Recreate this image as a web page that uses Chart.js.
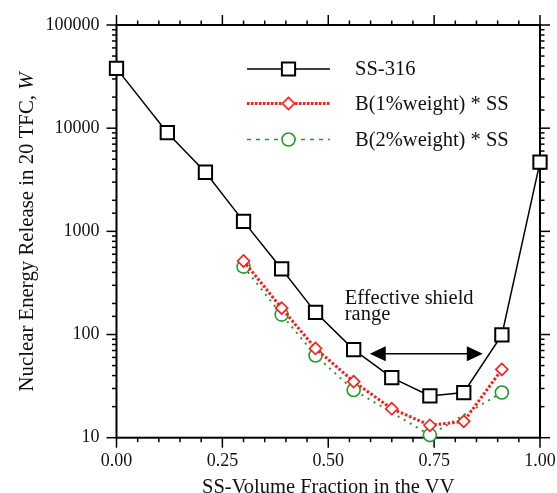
<!DOCTYPE html>
<html>
<head>
<meta charset="utf-8">
<script src="https://cdn.jsdelivr.net/npm/chart.js@4.4.0/dist/chart.umd.min.js"></script>
<style>
  html, body { margin: 0; padding: 0; background: #fff; }
  #wrap { width: 557px; height: 493px; }
</style>
</head>
<body>
<div id="wrap"><canvas id="chart" width="557" height="493"></canvas></div>
<script>
// values
const ssFraction = [0.00, 0.12, 0.21, 0.30, 0.39, 0.47, 0.56, 0.65, 0.74, 0.82, 0.91, 1.00];
const ss316 = [38000, 9040, 3740, 1250, 432, 164, 71.5, 38.2, 25.4, 27.4, 99, 4680];
const b1Fraction = [0.30, 0.39, 0.47, 0.56, 0.65, 0.74, 0.82, 0.91];
const b1Weight = [516, 180, 73.3, 35.0, 19.1, 13.2, 14.4, 45.9];
const b2Fraction = [0.30, 0.39, 0.47, 0.56, 0.74, 0.91];
const b2Weight = [455, 156, 62.6, 29.0, 10.6, 27.4];

const seriesLabels = ['SS-316', 'B(1%weight) * SS', 'B(2%weight) * SS'];
const xMajorTicks = [0, 0.25, 0.5, 0.75, 1];
const yMajorTicks = [10, 100, 1000, 10000, 100000];

// annotation: effective shield range (data coords)
const shieldRange = [0.598, 0.865];
const shieldArrowY = 65;
const shieldText = ['Effective shield', 'range'];
const shieldTextPos = [0.539, 198];

const FONT = '"Liberation Serif", "DejaVu Serif", serif';
const RED = '#ff1a1a';
const GREEN = '#22992a';

function toXY(xs, ys) {
  return xs.map((v, i) => ({ x: v, y: ys[i] }));
}

function isMajorX(v) {
  return xMajorTicks.some(t => Math.abs(t - v) < 1e-6);
}
function isMajorY(v) {
  return yMajorTicks.some(t => Math.abs(t - v) < 1e-6 * t);
}

function seg(ctx, x1, y1, x2, y2) {
  ctx.beginPath();
  ctx.moveTo(x1, y1);
  ctx.lineTo(x2, y2);
  ctx.stroke();
}

function marker(ctx, style, x, y, color) {
  ctx.save();
  ctx.setLineDash([]);
  ctx.fillStyle = '#fff';
  ctx.strokeStyle = color;
  ctx.beginPath();
  if (style === 'rect') {
    ctx.lineWidth = 2;
    ctx.rect(x - 6.6, y - 6.6, 13.2, 13.2);
  } else if (style === 'rectRot') {
    ctx.lineWidth = 1.6;
    ctx.moveTo(x - 6, y); ctx.lineTo(x, y - 6); ctx.lineTo(x + 6, y); ctx.lineTo(x, y + 6);
    ctx.closePath();
  } else {
    ctx.lineWidth = 1.6;
    ctx.arc(x, y, 6.5, 0, Math.PI * 2);
  }
  ctx.fill();
  ctx.stroke();
  ctx.restore();
}

const frame = {
  id: 'frame',
  beforeDatasetsDraw(chart) {
    const { ctx, chartArea: a, scales: { x, y } } = chart;
    ctx.save();
    ctx.strokeStyle = '#000';
    ctx.lineWidth = 1.5;
    x.ticks.forEach(t => {
      const px = x.getPixelForValue(t.value);
      const len = isMajorX(t.value) ? 10 : 4.5;
      seg(ctx, px, a.bottom, px, a.bottom + len);
      seg(ctx, px, a.top, px, a.top - len);
    });
    y.ticks.forEach(t => {
      const py = y.getPixelForValue(t.value);
      const len = isMajorY(t.value) ? 10 : 4.5;
      seg(ctx, a.left, py, a.left - len, py);
      seg(ctx, a.right, py, a.right + len, py);
    });
    ctx.lineWidth = 2;
    ctx.strokeRect(a.left, a.top, a.right - a.left, a.bottom - a.top);
    ctx.restore();
  },
  afterDraw(chart) {
    const { ctx, chartArea: a, scales: { x, y } } = chart;
    ctx.save();
    ctx.fillStyle = '#111';

    // x title
    ctx.font = '20.5px ' + FONT;
    ctx.textAlign = 'center';
    ctx.textBaseline = 'alphabetic';
    ctx.fillText('SS-Volume Fraction in the VV', (a.left + a.right) / 2, 492.5);

    // y title with italic W
    const part1 = 'Nuclear Energy Release in 20 TFC, ';
    const part2 = 'W';
    ctx.font = '20.8px ' + FONT;
    const w1 = ctx.measureText(part1).width;
    ctx.font = 'italic 20.8px ' + FONT;
    const w2 = ctx.measureText(part2).width;
    ctx.save();
    ctx.translate(33, 232);
    ctx.rotate(-Math.PI / 2);
    ctx.textAlign = 'left';
    ctx.font = '20.8px ' + FONT;
    ctx.fillText(part1, -(w1 + w2) / 2, 0);
    ctx.font = 'italic 20.8px ' + FONT;
    ctx.fillText(part2, -(w1 + w2) / 2 + w1, 0);
    ctx.restore();

    // legend
    const rows = [
      { y: 69, color: '#000', style: 'rect', dash: [], width: 1.6 },
      { y: 103.5, color: RED, style: 'rectRot', dash: [2.5, 1.5], width: 3 },
      { y: 139.5, color: GREEN, style: 'circle', dash: [4, 5], width: 1.6 },
    ];
    rows.forEach((r, i) => {
      ctx.save();
      ctx.strokeStyle = r.color;
      ctx.lineWidth = r.width;
      ctx.setLineDash(r.dash);
      seg(ctx, 247, r.y, 330, r.y);
      ctx.restore();
      marker(ctx, r.style, 288.5, r.y, r.color);
      ctx.fillStyle = '#111';
      ctx.font = '20.5px ' + FONT;
      ctx.textAlign = 'left';
      ctx.textBaseline = 'middle';
      ctx.fillText(seriesLabels[i], 355, r.y + 1);
    });

    // shield range arrow
    const ax1 = x.getPixelForValue(shieldRange[0]);
    const ax2 = x.getPixelForValue(shieldRange[1]);
    const ay = y.getPixelForValue(shieldArrowY);
    ctx.strokeStyle = '#000';
    ctx.fillStyle = '#000';
    ctx.lineWidth = 1.5;
    seg(ctx, ax1 + 10, ay, ax2 - 10, ay);
    ctx.beginPath();
    ctx.moveTo(ax1, ay); ctx.lineTo(ax1 + 16, ay - 7.5); ctx.lineTo(ax1 + 16, ay + 7.5); ctx.closePath();
    ctx.fill();
    ctx.beginPath();
    ctx.moveTo(ax2, ay); ctx.lineTo(ax2 - 16, ay - 7.5); ctx.lineTo(ax2 - 16, ay + 7.5); ctx.closePath();
    ctx.fill();

    const tx = x.getPixelForValue(shieldTextPos[0]);
    const ty = y.getPixelForValue(shieldTextPos[1]);
    ctx.fillStyle = '#111';
    ctx.font = '20.5px ' + FONT;
    ctx.textAlign = 'left';
    ctx.textBaseline = 'alphabetic';
    ctx.fillText(shieldText[0], tx, ty);
    ctx.fillText(shieldText[1], tx, ty + 16.5);
    ctx.restore();
  }
};

const ctx = document.getElementById('chart').getContext('2d');
new Chart(ctx, {
  type: 'line',
  data: {
    datasets: [
      {
        label: seriesLabels[0],
        data: toXY(ssFraction, ss316),
        borderColor: '#000',
        borderWidth: 1.5,
        pointStyle: 'rect',
        pointRadius: 9.4,
        pointBorderWidth: 2,
        pointBackgroundColor: '#fff',
        pointBorderColor: '#000',
        tension: 0,
        clip: false,
      },
      {
        label: seriesLabels[1],
        data: toXY(b1Fraction, b1Weight),
        borderColor: RED,
        borderWidth: 3,
        borderDash: [2.5, 2],
        pointStyle: 'rectRot',
        pointRadius: 6,
        pointBorderWidth: 1.6,
        pointBackgroundColor: '#fff',
        pointBorderColor: RED,
        tension: 0,
        clip: false,
      },
      {
        label: seriesLabels[2],
        data: toXY(b2Fraction, b2Weight),
        borderColor: GREEN,
        borderWidth: 2,
        borderDash: [2, 5],
        pointStyle: 'circle',
        pointRadius: 6.5,
        pointBorderWidth: 1.6,
        pointBackgroundColor: '#fff',
        pointBorderColor: GREEN,
        tension: 0,
        clip: false,
      },
    ],
  },
  options: {
    responsive: false,
    animation: false,
    devicePixelRatio: 1,
    layout: { padding: { top: 25, right: 17, left: 0, bottom: 0 } },
    plugins: {
      legend: { display: false },
      tooltip: { enabled: false },
    },
    scales: {
      x: {
        type: 'linear',
        min: 0,
        max: 1,
        grid: { display: false, drawTicks: false },
        border: { display: false },
        afterFit: s => { s.height = 55.3; s.paddingLeft = 0; s.paddingRight = 0; },
        ticks: {
          stepSize: 0.05,
          autoSkip: false,
          maxRotation: 0,
          padding: 13,
          color: '#111',
          font: { family: FONT, size: 18 },
          callback: v => (isMajorX(v) ? v.toFixed(2) : ''),
        },
      },
      y: {
        type: 'logarithmic',
        min: 10,
        max: 100000,
        grid: { display: false, drawTicks: false },
        border: { display: false },
        afterFit: s => { s.width = 116.5; s.paddingTop = 0; s.paddingBottom = 0; },
        ticks: {
          autoSkip: false,
          padding: 17,
          color: '#111',
          font: { family: FONT, size: 18 },
          callback: v => (isMajorY(v) ? String(v) : ''),
        },
      },
    },
  },
  plugins: [frame],
});
</script>
</body>
</html>
